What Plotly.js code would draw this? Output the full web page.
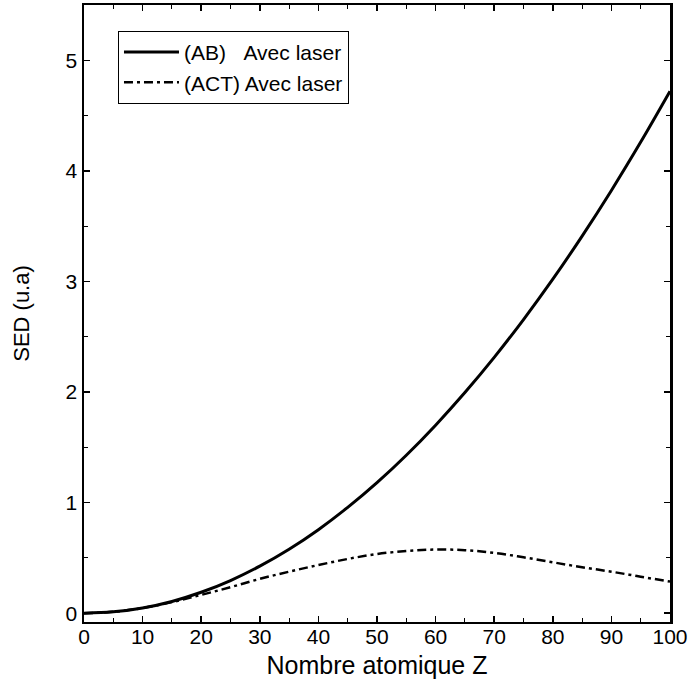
<!DOCTYPE html>
<html>
<head>
<meta charset="utf-8">
<script src="https://cdn.plot.ly/plotly-3.0.1.min.js"></script>
<style>html,body{margin:0;padding:0;background:#fff;}#chart{width:691px;height:679px;}</style>
</head>
<body>
<div id="chart"></div>
<script>
var Z = [0, 5, 10, 15, 20, 25, 30, 35, 40, 45, 50, 55, 60, 65, 70, 75, 80, 85, 90, 95, 100];
var sedAB = [0, 0.012, 0.047, 0.106, 0.189, 0.295, 0.425, 0.578, 0.755, 0.956, 1.18, 1.428, 1.70, 1.995, 2.313, 2.655, 3.02, 3.41, 3.823, 4.26, 4.72];
var sedACT = [0, 0.012, 0.046, 0.10, 0.165, 0.235, 0.31, 0.375, 0.435, 0.49, 0.535, 0.562, 0.575, 0.57, 0.545, 0.505, 0.46, 0.415, 0.375, 0.33, 0.285];
var nameAB = '(AB)\u00A0\u00A0\u00A0Avec laser';
var nameACT = '(ACT) Avec laser';
var xTitle = 'Nombre atomique Z';
var yTitle = 'SED (u.a)';

var FONT = 'Liberation Sans, Arial, sans-serif';
var traces = [
  {x: Z, y: sedAB, name: nameAB, type: 'scatter', mode: 'lines', line: {color: '#000', width: 3, shape: 'spline'}},
  {x: Z, y: sedACT, name: nameACT, type: 'scatter', mode: 'lines', line: {color: '#000', width: 2.5, dash: '9px,4px,3px,4px', shape: 'spline'}}
];
var layout = {
  width: 691, height: 679,
  margin: {l: 84, r: 21, t: 5, b: 57},
  paper_bgcolor: '#fff', plot_bgcolor: '#fff',
  font: {family: FONT, color: '#000'},
  showlegend: true,
  legend: {x: 0.058, y: 0.958, xanchor: 'left', yanchor: 'top', bordercolor: '#000', borderwidth: 1,
           bgcolor: '#fff', font: {size: 21, family: FONT}, itemwidth: 55, tracegroupgap: 0},
  xaxis: {range: [0, 100], dtick: 10, tick0: 0, ticks: 'inside', ticklen: 6, tickwidth: 1.5, tickcolor: '#000',
          showline: true, linecolor: '#000', linewidth: 2, mirror: 'ticks', showgrid: false, zeroline: false,
          tickfont: {size: 21, family: FONT}, ticklabelstandoff: -5,
          minor: {dtick: 5, ticks: 'inside', ticklen: 4, tickcolor: '#000', tickwidth: 1},
          title: {text: xTitle, font: {size: 25, family: FONT}, standoff: 10}},
  yaxis: {range: [-0.08, 5.5], dtick: 1, tick0: 0, ticks: 'inside', ticklen: 6, tickwidth: 1.5, tickcolor: '#000',
          showline: true, linecolor: '#000', linewidth: 2.5, mirror: 'ticks', showgrid: false, zeroline: false,
          tickfont: {size: 21, family: FONT},
          minor: {dtick: 0.5, ticks: 'inside', ticklen: 4, tickcolor: '#000', tickwidth: 1},
          title: {text: yTitle, font: {size: 22, family: FONT}, standoff: 30}}
};
Plotly.newPlot('chart', traces, layout, {displayModeBar: false, staticPlot: true});
</script>
</body>
</html>
